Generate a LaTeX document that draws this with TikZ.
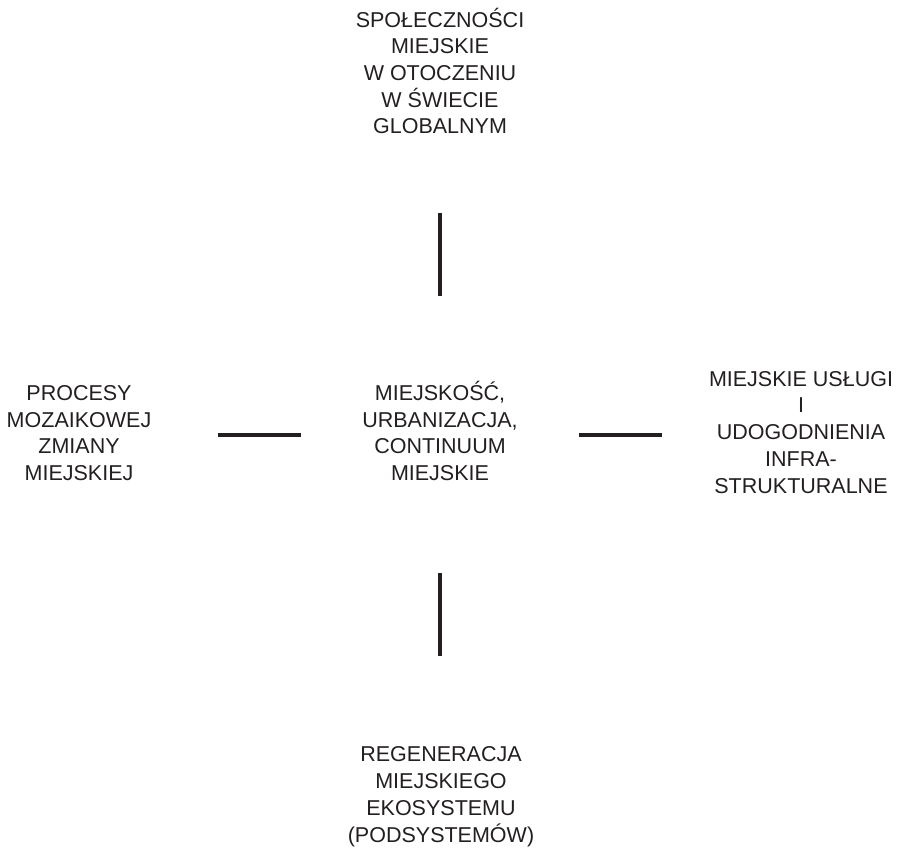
\documentclass[tikz,border=0pt]{standalone}
\usepackage{fontspec}
\setmainfont{Liberation Sans}
\definecolor{ink}{HTML}{231F20}
\begin{document}
\begin{tikzpicture}[x=1pt,y=-1pt,
  label text/.style={anchor=base, align=center, inner sep=0pt, text=ink,
    font=\fontsize{21.5}{26.7}\selectfont},
  bar/.style={draw=ink, line width=4pt}]
\useasboundingbox (0,0) rectangle (897,848);

% text blocks, each placed by the baseline of its last line
\node[label text] (top) at (440,134) {SPOŁECZNOŚCI\\MIEJSKIE\\W OTOCZENIU\\W ŚWIECIE\\GLOBALNYM};
\node[label text] (centre) at (440,480.5) {MIEJSKOŚĆ,\\URBANIZACJA,\\CONTINUUM\\MIEJSKIE};
\node[label text] (left) at (79,480.5) {PROCESY\\MOZAIKOWEJ\\ZMIANY\\MIEJSKIEJ};
\node[label text] (right) at (801,493) {MIEJSKIE USŁUGI\\I\\UDOGODNIENIA\\INFRA-\\STRUKTURALNE};
\node[label text] (bottom) at (441,842) {REGENERACJA\\MIEJSKIEGO\\EKOSYSTEMU\\(PODSYSTEMÓW)};

% bar end points
\coordinate (t1) at (440,212.5);
\coordinate (t2) at (440,295.5);
\coordinate (b1) at (440,573);
\coordinate (b2) at (440,656);
\coordinate (l1) at (218,434.5);
\coordinate (l2) at (301,434.5);
\coordinate (r1) at (579,434.5);
\coordinate (r2) at (662,434.5);

% bars between the blocks
\draw[bar] (t1) -- (t2);
\draw[bar] (b1) -- (b2);
\draw[bar] (l1) -- (l2);
\draw[bar] (r1) -- (r2);
\end{tikzpicture}
\end{document}
